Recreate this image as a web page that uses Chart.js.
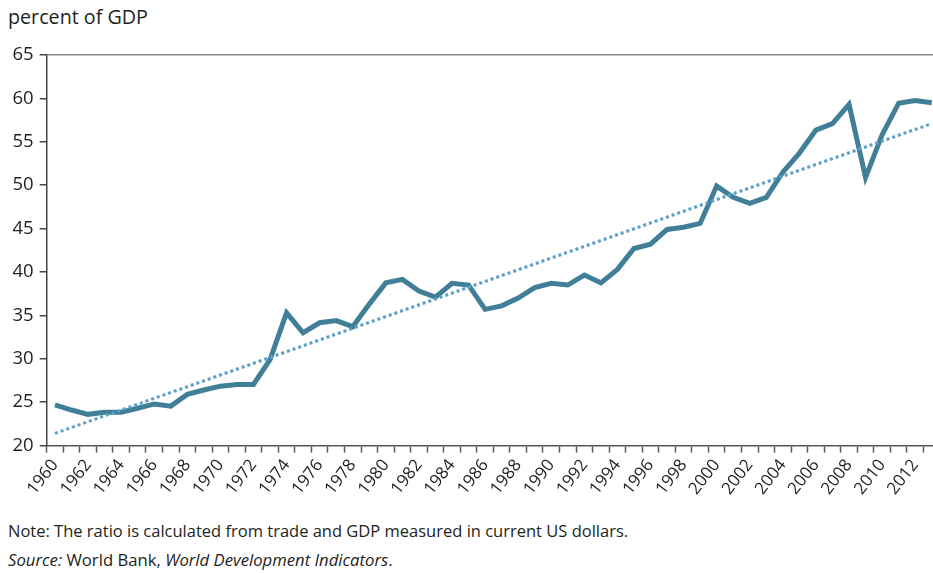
<!DOCTYPE html>
<html>
<head>
<meta charset="utf-8">
<script src="https://cdn.jsdelivr.net/npm/chart.js@4"></script>
<style>
  html, body { margin: 0; padding: 0; background: #fff; width: 933px; height: 573px; overflow: hidden; }
  #wrap { position: absolute; left: 0; top: 0; width: 940px; height: 510px; }
  .txt { position: absolute; font-family: "Open Sans", sans-serif; color: #231f20; white-space: nowrap; }
  #ytitle { left: 8px; top: 3px; font-size: 19.7px; }
  #note { left: 8px; top: 519px; font-size: 16.5px; }
  #source { left: 8px; top: 548px; font-size: 16.7px; }
</style>
</head>
<body>
<div id="ytitle" class="txt">percent of GDP</div>
<div id="wrap"><canvas id="c" width="940" height="510"></canvas></div>
<div id="note" class="txt">Note: The ratio is calculated from trade and GDP measured in current US dollars.</div>
<div id="source" class="txt"><i>Source:</i> World Bank, <i>World Development Indicators</i>.</div>
<script>
// Years (categories)
const years = ['1960','1961','1962','1963','1964','1965','1966','1967','1968','1969',
  '1970','1971','1972','1973','1974','1975','1976','1977','1978','1979',
  '1980','1981','1982','1983','1984','1985','1986','1987','1988','1989',
  '1990','1991','1992','1993','1994','1995','1996','1997','1998','1999',
  '2000','2001','2002','2003','2004','2005','2006','2007','2008','2009',
  '2010','2011','2012','2013'];
// Trade as percent of GDP
const tradeShare = [24.7, 24.1, 23.6, 23.85, 23.85, 24.3, 24.8, 24.55, 25.9, 26.4,
  26.85, 27.05, 27.05, 29.9, 35.3, 33.0, 34.15, 34.4, 33.7, 36.3,
  38.75, 39.15, 37.8, 37.1, 38.7, 38.5, 35.7, 36.1, 37.0, 38.2,
  38.7, 38.5, 39.65, 38.75, 40.3, 42.7, 43.2, 44.9, 45.15, 45.6,
  49.9, 48.6, 47.9, 48.6, 51.5, 53.7, 56.35, 57.1, 59.3, 50.9,
  55.8, 59.45, 59.75, 59.5];
// Linear trend endpoints
const trendYears = ['1960', '2013'];
const trendValues = [21.4, 57.1];
// Y-axis ticks
const yTicks = [20, 25, 30, 35, 40, 45, 50, 55, 60, 65];

const FONT = '"Open Sans", sans-serif';
const TXT = '#231f20';

new Chart(document.getElementById('c'), {
  type: 'line',
  data: {
    labels: years,
    datasets: [
      {
        label: 'Trend',
        data: trendYears.map((y, i) => ({ x: y, y: trendValues[i] })),
        borderColor: '#5b9fcb',
        borderWidth: 3,
        borderDash: [3, 3],
        pointRadius: 0,
        fill: false,
        tension: 0,
        order: 0
      },
      {
        label: 'Trade share',
        data: tradeShare,
        borderColor: '#417f98',
        borderWidth: 5,
        pointRadius: 0,
        fill: false,
        tension: 0,
        borderJoinStyle: 'miter',
        order: 1
      }
    ]
  },
  options: {
    responsive: false,
    animation: false,
    devicePixelRatio: 1,
    layout: { padding: { top: 55, left: 0, right: 0, bottom: 0 } },
    plugins: { legend: { display: false }, tooltip: { enabled: false }, title: { display: false } },
    scales: {
      x: {
        type: 'category',
        offset: true,
        grid: {
          offset: true,
          drawOnChartArea: false,
          tickLength: 7,
          tickColor: '#555',
          tickWidth: 1.5
        },
        border: { color: '#555', width: 1.5 },
        ticks: {
          autoSkip: false,
          maxRotation: 52,
          minRotation: 52,
          padding: 3,
          color: TXT,
          font: { family: FONT, size: 17 },
          callback: function(value, index) {
            return index % 2 === 0 ? years[index] : '';
          }
        },
        afterFit: function(scale) {
          scale.height = 510 - 445.6;
          scale.paddingLeft = 0;
          scale.paddingRight = 0;
        }
      },
      y: {
        min: 20,
        max: 65,
        afterBuildTicks: function(scale) { scale.ticks = yTicks.map(v => ({ value: v })); },
        grid: {
          drawOnChartArea: true,
          color: ctx => (ctx.tick && ctx.tick.value === 65) ? '#8a8a8a' : 'rgba(0,0,0,0)',
          lineWidth: 1.5,
          tickLength: 7,
          tickColor: '#444',
          tickWidth: 1.5
        },
        border: { color: '#444', width: 1.5 },
        ticks: {
          padding: 6,
          color: TXT,
          font: { family: FONT, size: 18.5 }
        },
        afterFit: function(scale) { scale.width = 46.7; }
      }
    }
  }
});
</script>
</body>
</html>
